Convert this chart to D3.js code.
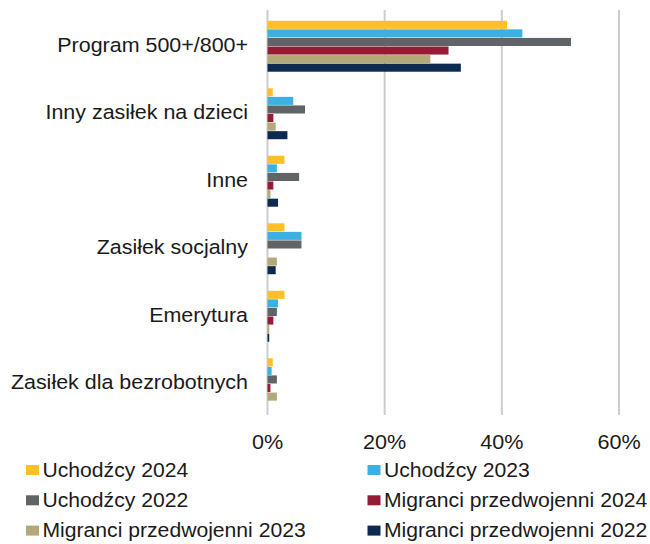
<!DOCTYPE html>
<html lang="pl">
<head>
    <meta charset="utf-8">
    <title>Świadczenia</title>
    <script src="https://d3js.org/d3.v7.min.js"></script>
    <style>
        body { margin: 0; background: #fff; }
        text { font-family: "Liberation Sans", Arial, sans-serif; fill: #1a1a1a; }
    </style>
</head>
<body>
<svg id="chart"></svg>
<script>
    // data (percent)
    const categories = ["Program 500+/800+", "Inny zasiłek na dzieci", "Inne",
        "Zasiłek socjalny", "Emerytura", "Zasiłek dla bezrobotnych"];
    const seriesNames = ["Uchodźcy 2024", "Uchodźcy 2023", "Uchodźcy 2022",
        "Migranci przedwojenni 2024", "Migranci przedwojenni 2023", "Migranci przedwojenni 2022"];
    const uch2024 = [40.9, 0.9, 2.9, 2.9, 2.9, 0.9];
    const uch2023 = [43.5, 4.4, 1.6, 5.8, 1.8, 0.7];
    const uch2022 = [51.8, 6.4, 5.4, 5.8, 1.6, 1.6];
    const mig2024 = [30.9, 1.0, 1.0, 0.0, 1.0, 0.5];
    const mig2023 = [27.8, 1.4, 0.5, 1.6, 0.3, 1.6];
    const mig2022 = [33.0, 3.4, 1.8, 1.4, 0.3, 0.0];
    const xTicks = [0, 20, 40, 60];

    const colors = ["#FFBF27", "#3BB0E1", "#616466", "#961B36", "#B3A877", "#0D2A50"];
    const seriesValues = [uch2024, uch2023, uch2022, mig2024, mig2023, mig2022];

    let width = 650, height = 544;
    let svg = d3.select("#chart").attr("width", width).attr("height", height);

    let x = d3.scaleLinear().domain([0, 60]).range([267.5, 619]);
    let y = d3.scaleBand().domain(categories).range([12.5, 417.5])
        .paddingInner(0.23).paddingOuter(0.115);
    let ySub = d3.scaleBand().domain(d3.range(seriesNames.length))
        .range([0, y.bandwidth()]).padding(0.06);

    // gridlines
    svg.append("g").selectAll("line")
        .data(xTicks)
        .join("line")
        .attr("x1", d => x(d)).attr("x2", d => x(d))
        .attr("y1", 10).attr("y2", 415)
        .attr("stroke", "#CDCDCD")
        .attr("stroke-width", 2);

    // bars
    let groups = svg.append("g").selectAll("g")
        .data(categories)
        .join("g")
        .attr("transform", d => `translate(0,${y(d)})`);

    groups.selectAll("rect")
        .data((c, ci) => seriesValues.map((vals, si) => ({si, v: vals[ci]})))
        .join("rect")
        .attr("x", x(0))
        .attr("y", d => ySub(d.si))
        .attr("width", d => x(d.v) - x(0))
        .attr("height", ySub.bandwidth())
        .attr("fill", d => colors[d.si]);

    // category labels
    svg.append("g").selectAll("text")
        .data(categories)
        .join("text")
        .attr("transform", d => `translate(248,${y(d) + y.bandwidth() / 2 + 5.5}) scale(1.1,1)`)
        .attr("text-anchor", "end")
        .style("font-size", "19.5px")
        .text(d => d);

    // x tick labels
    svg.append("g").selectAll("text")
        .data(xTicks)
        .join("text")
        .attr("transform", d => `translate(${x(d)},448.5) scale(1.08,1)`)
        .attr("text-anchor", "middle")
        .style("font-size", "20px")
        .text(d => d + "%");

    // legend
    let legend = svg.append("g").selectAll("g")
        .data(seriesNames)
        .join("g")
        .attr("transform", (d, i) => `translate(${i % 2 === 0 ? 26 : 367.5},${465 + Math.floor(i / 2) * 30.3})`);

    legend.append("rect")
        .attr("width", 13).attr("height", 10)
        .attr("fill", (d, i) => colors[i]);

    legend.append("text")
        .attr("transform", "translate(16.5,11.5) scale(1.085,1)")
        .style("font-size", "19.5px")
        .text(d => d);
</script>
</body>
</html>
